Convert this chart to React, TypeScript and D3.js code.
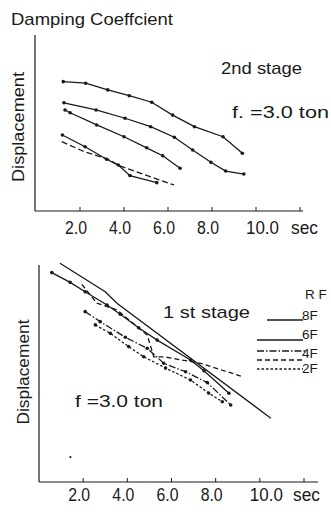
import React from "react";
import * as d3 from "d3";

// Shared time axis
const tickValues = [2, 4, 6, 8, 10, 12];
const tickLabels = ["2.0", "4.0", "6.0", "8.0", "10.0"];
const unitLabel = "sec";

// 2nd stage (f. = 3.0 ton)
const s2Sec1 = [1.24, 2.26, 3.26, 4.24, 5.26, 6.21, 7.2, 8.5, 9.38];
const s2Disp1 = [7.35, 7.26, 6.88, 6.55, 6.18, 5.45, 4.79, 4.22, 3.28];
const s2Sec2 = [1.27, 2.73, 4.05, 5.21, 6.29, 7.12, 7.95, 8.62, 9.45];
const s2Disp2 = [6.15, 5.74, 5.27, 4.79, 4.19, 3.47, 2.77, 2.27, 2.1];
const s2Sec3 = [1.32, 1.55, 2.76, 4.0, 5.03, 5.76, 6.55];
const s2Disp3 = [5.74, 5.58, 4.89, 4.22, 3.59, 3.14, 2.43];
const s2Sec4 = [1.2, 2.23, 3.21, 3.74, 4.27, 5.49];
const s2Disp4 = [4.32, 3.65, 2.94, 2.61, 2.01, 1.61];
const s2Sec5 = [1.17, 2.23, 3.27, 3.82, 6.27];
const s2Disp5 = [3.94, 3.35, 2.95, 2.56, 1.48];

// 1st stage (f = 3.0 ton), by floor
const floors = ["R F", "8F", "6F", "4F", "2F"];
const s1SecRF = [0.95, 3.0, 3.53, 10.5];
const s1DispRF = [10.08, 8.77, 8.24, 2.94];
const s1Sec8F = [0.58, 1.41, 2.09, 3.08, 3.68, 4.51, 5.35, 6.86, 7.47, 8.6];
const s1Disp8F = [9.65, 9.2, 8.77, 8.16, 7.73, 7.11, 6.54, 5.62, 5.13, 4.09];
const s1Sec6F = [2.09, 2.77, 3.91, 4.9, 5.65, 6.64, 7.62, 8.68];
const s1Disp6F = [7.85, 7.39, 6.67, 6.16, 5.47, 5.08, 4.58, 3.55];
const s1Sec4F = [1.94, 2.62, 3.53, 4.9, 5.2, 5.65, 7.32, 9.14];
const s1Disp4F = [9.11, 8.24, 7.93, 6.77, 5.77, 5.77, 5.47, 4.88];
const s1Sec2F = [2.55, 3.23, 4.06, 4.74, 5.73, 6.86, 7.68, 8.3];
const s1Disp2F = [7.24, 6.85, 6.24, 5.77, 5.25, 4.7, 4.1, 3.7];
// isolated reading below the curves
const s1SecLone = [1.42];
const s1DispLone = [1.15];

type Pt = [number, number];
const zip = (a: number[], b: number[]): Pt[] => a.map((v, i) => [v, b[i]]);

const INK = "#1a1a1a";
const FONT = "'Liberation Sans', Arial, sans-serif";

type Series = { pts: Pt[]; dash?: string; dots: boolean };

const stage2: Series[] = [
  { pts: zip(s2Sec1, s2Disp1), dots: true },
  { pts: zip(s2Sec2, s2Disp2), dots: true },
  { pts: zip(s2Sec3, s2Disp3), dots: true },
  { pts: zip(s2Sec4, s2Disp4), dots: true },
  { pts: zip(s2Sec5, s2Disp5), dash: "6,3", dots: false },
];

const dash6F = "7,2,1.5,2";
const dash4F = "5,3";
const dash2F = "2.5,2";

const stage1: Series[] = [
  { pts: zip(s1SecRF, s1DispRF), dots: false },
  { pts: zip(s1Sec8F, s1Disp8F), dots: true },
  { pts: zip(s1Sec6F, s1Disp6F), dash: dash6F, dots: true },
  { pts: zip(s1Sec4F, s1Disp4F), dash: dash4F, dots: false },
  { pts: zip(s1Sec2F, s1Disp2F), dash: dash2F, dots: true },
];

function Panel(props: {
  series: Series[];
  extra?: Pt[];
  x0: number;
  x12: number;
  axisLeft: number;
  axisRight: number;
  yBottom: number;
  yTop: number;
  labelBase: number;
  unitX: number;
  ylabelX: number;
  ylabelY: number;
  ylabelLen: number;
}) {
  const { series, x0, x12, axisLeft, axisRight, yBottom, yTop, labelBase } = props;
  const x = d3.scaleLinear().domain([0, 12]).range([x0, x12]);
  const y = d3.scaleLinear().domain([0, 10]).range([yBottom, yTop]);
  const line = d3
    .line<Pt>()
    .x((d) => x(d[0]))
    .y((d) => y(d[1]));
  return (
    <g>
      {/* axes */}
      <line x1={axisLeft} x2={axisLeft} y1={yTop} y2={yBottom} stroke={INK} strokeWidth={1.2} />
      <line x1={axisLeft} x2={axisRight} y1={yBottom} y2={yBottom} stroke={INK} strokeWidth={1.2} />
      {tickValues.map((t) => (
        <line key={t} x1={x(t)} x2={x(t)} y1={yBottom} y2={yBottom - 4} stroke={INK} strokeWidth={1} />
      ))}
      {tickLabels.map((lab, i) => (
        <text
          key={lab}
          x={x(tickValues[i]) - 15 + (lab.length > 3 ? 5 : 0)}
          y={labelBase}
          fontSize={17.5}
          fontFamily={FONT}
          fill={INK}
          textLength={lab.length > 3 ? 33 : 22}
          lengthAdjust="spacingAndGlyphs"
        >
          {lab}
        </text>
      ))}
      <text
        x={props.unitX}
        y={labelBase}
        fontSize={17.5}
        fontFamily={FONT}
        fill={INK}
        textLength={27}
        lengthAdjust="spacingAndGlyphs"
      >
        {unitLabel}
      </text>
      <text
        transform={`translate(${props.ylabelX},${props.ylabelY}) rotate(-90)`}
        textAnchor="middle"
        fontSize={16.5}
        fontFamily={FONT}
        fill={INK}
        textLength={props.ylabelLen}
        lengthAdjust="spacingAndGlyphs"
      >
        Displacement
      </text>
      {/* series */}
      {series.map((s, i) => (
        <g key={i}>
          <path d={line(s.pts) || ""} fill="none" stroke={INK} strokeWidth={1.3} strokeDasharray={s.dash} />
          {s.dots &&
            s.pts.map((p, j) => <circle key={j} cx={x(p[0])} cy={y(p[1])} r={1.8} fill={INK} />)}
        </g>
      ))}
      {(props.extra || []).map((p, j) => (
        <circle key={"e" + j} cx={x(p[0])} cy={y(p[1])} r={1.1} fill={INK} />
      ))}
    </g>
  );
}

export default function App() {
  const legendLineY = [320, 340, 351, 360, 369];
  const legendLabelY = [299, 320, 339, 358, 373];
  const legendLabelX = [305, 302, 302, 302, 302];
  return (
    <div style={{ position: "absolute", left: 0, top: 0 }}>
      <svg width={331} height={512} style={{ display: "block", background: "#fff" }}>
        <text x={11} y={25} fontSize={17} fontFamily={FONT} fill={INK} textLength={162} lengthAdjust="spacingAndGlyphs">
          Damping Coeffcient
        </text>

        <Panel
          series={stage2}
          x0={36}
          x12={300}
          axisLeft={35}
          axisRight={303}
          yBottom={211}
          yTop={35}
          labelBase={234}
          unitX={291}
          ylabelX={24}
          ylabelY={127}
          ylabelLen={110}
        />
        <text x={221} y={74} fontSize={17} fontFamily={FONT} fill={INK} textLength={81} lengthAdjust="spacingAndGlyphs">
          2nd stage
        </text>
        <text x={232} y={118} fontSize={17} fontFamily={FONT} fill={INK} textLength={97} lengthAdjust="spacingAndGlyphs">
          f. =3.0 ton
        </text>

        <Panel
          series={stage1}
          extra={zip(s1SecLone, s1DispLone)}
          x0={39}
          x12={304}
          axisLeft={39}
          axisRight={318}
          yBottom={482}
          yTop={265}
          labelBase={501}
          unitX={293}
          ylabelX={29}
          ylabelY={372}
          ylabelLen={105}
        />
        <text x={163} y={318} fontSize={17} fontFamily={FONT} fill={INK} textLength={87} lengthAdjust="spacingAndGlyphs">
          1 st stage
        </text>
        <text x={75} y={407} fontSize={17} fontFamily={FONT} fill={INK} textLength={88} lengthAdjust="spacingAndGlyphs">
          f =3.0 ton
        </text>

        {/* legend */}
        {stage1.map((s, i) => (
          <line
            key={i}
            x1={i === 0 ? 267 : 257}
            x2={i === 2 ? 307 : 303}
            y1={legendLineY[i]}
            y2={legendLineY[i]}
            stroke={INK}
            strokeWidth={1.3}
            strokeDasharray={s.dash}
          />
        ))}
        {floors.map((f, i) => (
          <text key={f} x={legendLabelX[i]} y={legendLabelY[i]} fontSize={13.5} fontFamily={FONT} fill={INK}>
            {f}
          </text>
        ))}
      </svg>
    </div>
  );
}
